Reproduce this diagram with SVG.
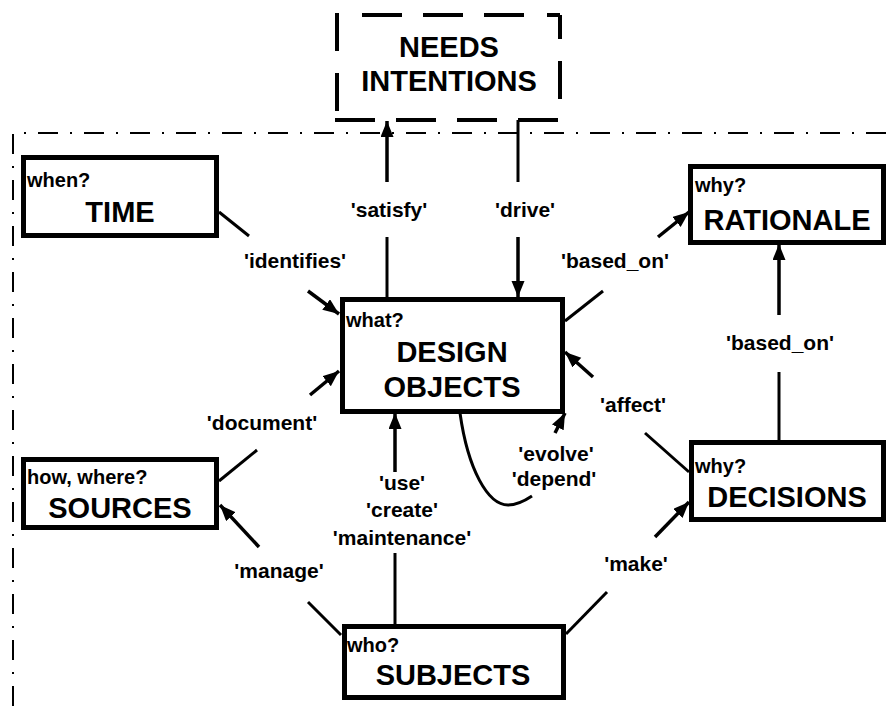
<svg xmlns="http://www.w3.org/2000/svg" width="893" height="706" viewBox="0 0 893 706">
<defs>
<marker id="ah" markerUnits="userSpaceOnUse" markerWidth="18" markerHeight="14" refX="16" refY="6.5" orient="auto">
<path d="M0,0 L16,6.5 L0,13 z" fill="#000"/>
</marker>
<style>
text{font-family:"Liberation Sans",Arial,sans-serif;font-weight:bold;fill:#000}
.box{fill:#fff;stroke:#000;stroke-width:5}
.q{font-size:20px}
.big{font-size:29px;text-anchor:middle}
.lbl{font-size:21px;text-anchor:middle}
.ln{fill:none;stroke:#000;stroke-width:3}
.ar{fill:none;stroke:#000;stroke-width:3.5;marker-end:url(#ah)}
.dash{fill:none;stroke:#000;stroke-width:4;stroke-dasharray:40 21}
</style>
</defs>
<rect width="893" height="706" fill="#fff"/>
<g id="frame">
<path d="M13,706 L13,133 L893,133" fill="none" stroke="#000" stroke-width="2" stroke-dasharray="20 12 2 12"/>
</g>
<g id="needs">
<path class="dash" d="M337,13 V120" style="stroke-dasharray:38 22"/>
<path class="dash" d="M335,120 H560"/>
<path class="dash" d="M337,15 H560" style="stroke-dasharray:0 25 40 21 40 21 40 23 40"/>
<path class="dash" d="M560,15 V120" style="stroke-dasharray:38 22;stroke-dashoffset:14"/>
<text class="big" x="449" y="57">NEEDS</text>
<text class="big" x="449" y="91">INTENTIONS</text>
</g>
<g id="connectors">
<line class="ln" x1="387" y1="298" x2="387" y2="237"/>
<line class="ar" x1="387" y1="182" x2="387" y2="121"/>
<line class="ln" x1="518" y1="120" x2="518" y2="182"/>
<line class="ar" x1="518" y1="237" x2="518" y2="297"/>
<line class="ln" x1="219" y1="212" x2="249" y2="236"/>
<line class="ar" x1="308" y1="291" x2="339" y2="314"/>
<line class="ln" x1="219" y1="481" x2="257" y2="450"/>
<line class="ar" x1="310" y1="395" x2="339" y2="371"/>
<line class="ln" x1="341" y1="635" x2="308" y2="602"/>
<line class="ar" x1="259" y1="547" x2="220" y2="505"/>
<line class="ln" x1="566" y1="634" x2="607" y2="592"/>
<line class="ar" x1="655" y1="537" x2="689" y2="502"/>
<line class="ln" x1="689" y1="472" x2="645" y2="433"/>
<line class="ar" x1="593" y1="377" x2="565" y2="352"/>
<line class="ln" x1="565" y1="321" x2="603" y2="291"/>
<line class="ar" x1="658" y1="237" x2="689" y2="212"/>
<line class="ln" x1="779" y1="441" x2="779" y2="372"/>
<line class="ar" x1="779" y1="315" x2="779" y2="244"/>
<line class="ln" x1="395" y1="625" x2="395" y2="553"/>
<line class="ar" x1="395" y1="472" x2="395" y2="413"/>
<path class="ln" d="M460,413 C468,470 488,505 508,505 C518,505 526,500 532,496"/>
<line class="ar" x1="555" y1="433" x2="565" y2="413"/>
<text class="lbl" x="389" y="217">'satisfy'</text>
<text class="lbl" x="525" y="217">'drive'</text>
<text class="lbl" x="295" y="268">'identifies'</text>
<text class="lbl" x="615" y="268">'based_on'</text>
<text class="lbl" x="780" y="350">'based_on'</text>
<text class="lbl" x="262" y="430">'document'</text>
<text class="lbl" x="633" y="412">'affect'</text>
<text class="lbl" x="556" y="461">'evolve'</text>
<text class="lbl" x="554" y="486">'depend'</text>
<text class="lbl" x="402" y="490">'use'</text>
<text class="lbl" x="402" y="517">'create'</text>
<text class="lbl" x="402" y="545">'maintenance'</text>
<text class="lbl" x="279" y="578">'manage'</text>
<text class="lbl" x="636" y="571">'make'</text>
</g>
<g id="time">
<rect class="box" x="23.5" y="157.5" width="193" height="78"/>
<text class="q" x="27" y="187">when?</text>
<text class="big" x="120" y="222">TIME</text>
</g>
<g id="sources">
<rect class="box" x="23.5" y="459.5" width="193" height="68"/>
<text class="q" x="27" y="484">how, where?</text>
<text class="big" x="120" y="518">SOURCES</text>
</g>
<g id="design-objects">
<rect class="box" x="342.5" y="299.5" width="220" height="112"/>
<text class="q" x="346" y="327">what?</text>
<text class="big" x="452" y="362">DESIGN</text>
<text class="big" x="452" y="397">OBJECTS</text>
</g>
<g id="subjects">
<rect class="box" x="344.5" y="626.5" width="219" height="71"/>
<text class="q" x="347" y="652">who?</text>
<text class="big" x="453" y="685">SUBJECTS</text>
</g>
<g id="rationale">
<rect class="box" x="690.5" y="166.5" width="193" height="76"/>
<text class="q" x="695" y="192">why?</text>
<text class="big" x="787" y="230">RATIONALE</text>
</g>
<g id="decisions">
<rect class="box" x="691.5" y="442.5" width="192" height="77"/>
<text class="q" x="695" y="473">why?</text>
<text class="big" x="787" y="507">DECISIONS</text>
</g>
</svg>
